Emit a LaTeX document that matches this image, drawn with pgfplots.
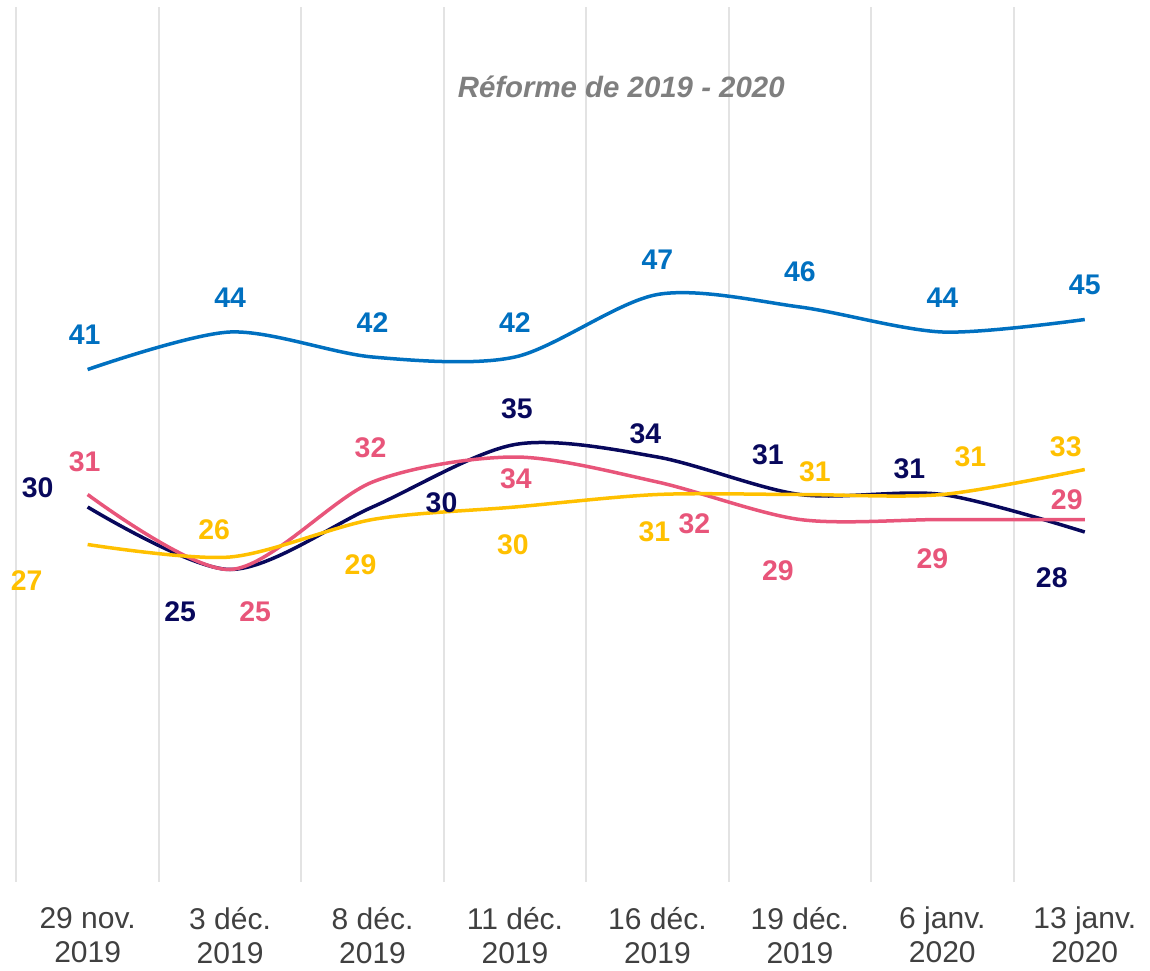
\documentclass[border=0pt]{standalone}
\usepackage{fontspec}
\setmainfont{Liberation Sans}
\usepackage{pgfplots}
\usepackage{pgfplotstable}
\pgfplotsset{compat=1.18}
\definecolor{cblue}{HTML}{0070C0}
\definecolor{cnavy}{HTML}{08085C}
\definecolor{cpink}{HTML}{E8557A}
\definecolor{cyellow}{HTML}{FFC000}
\definecolor{cgrid}{HTML}{E3E3E3}
\definecolor{ctick}{HTML}{404040}
\definecolor{ctitle}{HTML}{7F7F7F}

% x = category index, y = value, dx/dy = label offset (pt)
\pgfplotstableread{
x y dx dy
0 41 -1.5 17.25
1 44 0 17
2 42 0 17
3 42 0 17
4 47 0 17.25
5 46 0 17.5
6 44 0 17
7 45 0 17.25
}\blueT
\pgfplotstableread{
x y dx dy
0 30 -25 9.5
1 25 -25 -21.25
2 30 34.5 2
3 35 1 17.75
4 34 -6 11.5
5 31 -16 19.75
6 31 -16.5 12.75
7 28 -16.5 -23
}\navyT
\pgfplotstableread{
x y dx dy
0 31 -1.5 16.25
1 25 12.5 -21.25
2 32 -1 17
3 34 0.5 -11
4 32 18.5 -21
5 29 -11 -25.75
6 29 -5 -19.75
7 29 -9 9.75
}\pinkT
\pgfplotstableread{
x y dx dy
0 27 -30.5 -18.25
1 26 -8 13.5
2 29 -6 -22.75
3 30 -1 -19
4 31 -1.5 -18.75
5 31 7.5 11.25
6 31 14 18.75
7 33 -9.5 11.25
}\yellowT

\pgfplotsset{
  lab/.style={
    nodes near coords,
    point meta=y,
    visualization depends on={\thisrow{dx}\as\dx},
    visualization depends on={\thisrow{dy}\as\dy},
    every node near coord/.append style={font=\fontsize{14.2}{16}\selectfont\bfseries, text=#1, anchor=center, xshift=\dx pt, yshift=\dy pt, inner sep=0pt},
  },
}

\begin{document}
\begin{tikzpicture}
\begin{axis}[
  width=567.5pt, height=437.5pt, scale only axis,
  xmin=-0.51, xmax=7.458, ymin=0, ymax=70,
  axis line style={draw=none},
  ytick=\empty,
  xtick={0,...,7},
  xticklabels={{29 nov.\\2019},{3 déc.\\2019},{8 déc.\\2019},{11 déc.\\2019},{16 déc.\\2019},{19 déc.\\2019},{6 janv.\\2020},{13 janv.\\2020}},
  xticklabel style={align=center, font=\fontsize{15}{17}\selectfont, text=ctick, yshift=-9pt},
  major tick length=0pt, minor tick length=0pt,
  minor xtick={-0.5,0.5,...,6.5},
  xminorgrids, minor grid style={cgrid, line width=1pt},
  clip=false,
  /pgf/number format/assume math mode=true,
]
\addplot[cblue, line width=1.75pt, mark=none, smooth, tension=0.5, lab=cblue] table[x=x,y=y]{\blueT};
\addplot[cnavy, line width=1.75pt, mark=none, smooth, tension=0.5, lab=cnavy] table[x=x,y=y]{\navyT};
\addplot[cpink, line width=1.75pt, mark=none, smooth, tension=0.5, lab=cpink] table[x=x,y=y]{\pinkT};
\addplot[cyellow, line width=1.75pt, mark=none, smooth, tension=0.5, lab=cyellow] table[x=x,y=y]{\yellowT};
\node[font=\fontsize{14.7}{17}\selectfont\bfseries\itshape, text=ctitle] at (axis cs:3.746,63.6) {Réforme de 2019 - 2020};
\end{axis}
\pgfresetboundingbox
\path[use as bounding box] ([shift={(-7.5pt,-44pt)}]current axis.south west) rectangle ([shift={(0pt,3.5pt)}]current axis.north east);
\end{tikzpicture}
\end{document}
